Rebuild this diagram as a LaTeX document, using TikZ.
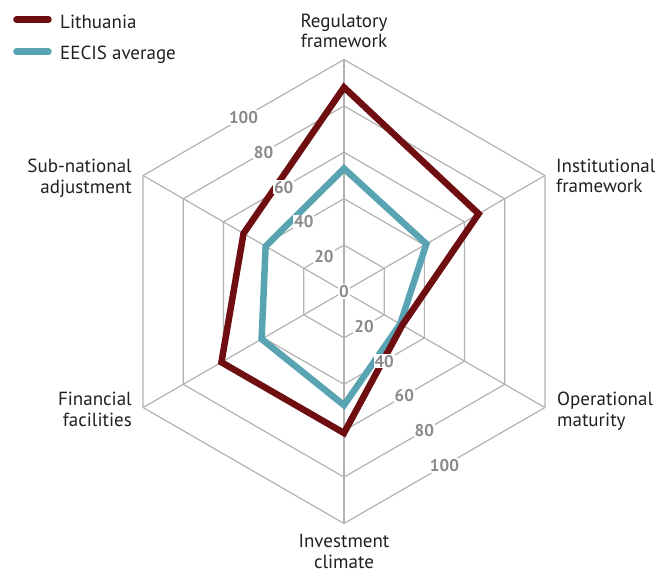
\documentclass[tikz,border=0pt]{standalone}
\usepackage{fontspec}
\setmainfont{PT Sans}
\definecolor{lithred}{HTML}{6F0E10}
\definecolor{eecisblue}{HTML}{58A4B2}
\definecolor{gridgray}{HTML}{B2B2B2}
\definecolor{numgray}{HTML}{8A8A8A}
\definecolor{labelblack}{HTML}{231F20}
\tikzset{
  gridline/.style={gridgray, line width=1.2pt},
  serie/.style={line width=6.5pt, line join=miter},
  catlabel/.style={font=\fontsize{19}{20.8}\selectfont, text=labelblack, inner sep=0pt},
  ticklabel/.style={font=\fontsize{17}{17}\selectfont\bfseries, text=numgray, fill=white, inner sep=1pt},
}
\begin{document}
\begin{tikzpicture}[x=1pt,y=1pt]
\useasboundingbox (-344,-281.5) rectangle (328,291.5);
% hexagon rings and spokes
\foreach \r in {1,...,5}
  \draw[gridline] (90:{46.4*\r}) -- (30:{46.4*\r}) -- (-30:{46.4*\r}) -- (-90:{46.4*\r}) -- (210:{46.4*\r}) -- (150:{46.4*\r}) -- cycle;
\foreach \a in {90,30,...,-210}
  \draw[gridline] (0,0) -- (\a:232);
% data
\draw[serie, eecisblue] plot coordinates {(90:122.96) (30:95.12) (-30:64.96) (-90:113.68) (210:95.12) (150:90.48)} -- cycle;
\draw[serie, lithred] plot coordinates {(90:204.16) (30:155.44) (-30:67.28) (-90:141.52) (210:141.52) (150:116)} -- cycle;
% scale
\node[ticklabel] (tick0) at (0,0) {0};
\foreach \v [count=\i] in {20,40,60,80,100} {
  \node[ticklabel] (tickup\i) at (120:{40.18*\i}) {\v};
  \node[ticklabel] (tickdown\i) at (-60:{40.18*\i}) {\v};
}
% axis names (base = last line)
\node[catlabel, anchor=base, align=center] (regul) at (0,243.5) {Regulatory\\framework};
\node[catlabel, anchor=base west, align=left] (instit) at (212,98.5) {Institutional\\framework};
\node[catlabel, anchor=base west, align=left] (operat) at (213,-135) {Operational\\maturity};
\node[catlabel, anchor=base, align=center] (invest) at (0,-276.5) {Investment\\climate};
\node[catlabel, anchor=base east, align=right] (financ) at (-212,-134.5) {Financial\\facilities};
\node[catlabel, anchor=base east, align=right] (subnat) at (-212,98) {Sub-national\\adjustment};
% legend
\draw[serie, lithred, line cap=round] (-327.5,272) -- (-295.5,272);
\draw[serie, eecisblue, line cap=round] (-327.5,240) -- (-295.5,240);
\node[catlabel, anchor=base west] (leglit) at (-284,263.2) {Lithuania};
\node[catlabel, anchor=base west] (legeecis) at (-284,231.5) {EECIS average};
\end{tikzpicture}
\end{document}
